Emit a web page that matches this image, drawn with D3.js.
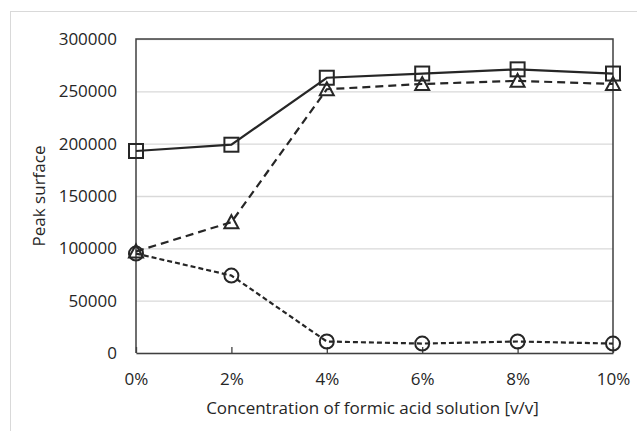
<!DOCTYPE html>
<html>
<head>
<meta charset="utf-8">
<script src="https://cdn.jsdelivr.net/npm/d3@7"></script>
<style>
  body { margin: 0; background: #fff; }
  svg { display: block; font-family: "Open Sans", sans-serif; }
</style>
</head>
<body>
<div id="chart"></div>
<script>
const categories = ["0%", "2%", "4%", "6%", "8%", "10%"];
const squares = [193000, 199000, 263000, 267000, 271000, 267000];
const triangles = [97000, 125000, 252000, 257000, 260000, 257000];
const circles = [95000, 74000, 11000, 9000, 11000, 9000];
const yTicks = [0, 50000, 100000, 150000, 200000, 250000, 300000];

const width = 637, height = 431;
const margin = { top: 39, right: 24, bottom: 78, left: 136 };
const innerW = width - margin.left - margin.right;
const innerH = height - margin.top - margin.bottom;
const ink = "#262626";
const fontSize = "17px";

const svg = d3.select("#chart").append("svg")
  .attr("width", width)
  .attr("height", height);

// outer chart frame
svg.append("rect")
  .attr("x", 10.5).attr("y", 11.5)
  .attr("width", width).attr("height", height)
  .style("fill", "none")
  .style("stroke", "#d9d9d9");

const g = svg.append("g")
  .attr("transform", `translate(${margin.left}, ${margin.top})`);

const xScale = d3.scalePoint().domain(categories).range([0, innerW]);
const yScale = d3.scaleLinear().domain([0, 300000]).range([innerH, 0]);

// gridlines + y labels
const yAxis = g.append("g")
  .call(d3.axisLeft(yScale).tickValues(yTicks).tickSize(-innerW).tickPadding(19).tickFormat(d3.format("d")));
yAxis.select(".domain").remove();
yAxis.selectAll("line").style("stroke", "#d9d9d9").style("stroke-width", 1.3);
yAxis.selectAll("text")
  .style("font-size", fontSize)
  .style("font-family", "Open Sans")
  .style("fill", ink);

// plot box top/left/right
g.append("path")
  .attr("d", `M0,${innerH}V0H${innerW}V${innerH}`)
  .style("fill", "none")
  .style("stroke", "#404040")
  .style("stroke-width", 1.5);

const xAxis = g.append("g")
  .attr("transform", `translate(0, ${innerH})`)
  .call(d3.axisBottom(xScale).tickSizeInner(-6).tickSizeOuter(0).tickPadding(20));
xAxis.select(".domain").style("stroke", "#404040").style("stroke-width", 1.5);
xAxis.selectAll("line").style("stroke", "#404040").style("stroke-width", 1.3);
xAxis.selectAll("text")
  .style("font-size", fontSize)
  .style("font-family", "Open Sans")
  .style("fill", ink);

svg.append("text")
  .attr("x", margin.left + innerW / 2 - 2)
  .attr("y", 414)
  .attr("text-anchor", "middle")
  .style("font-size", fontSize)
  .style("fill", ink)
  .text("Concentration of formic acid solution [v/v]");

svg.append("text")
  .attr("transform", `translate(45, ${margin.top + innerH / 2}) rotate(-90)`)
  .attr("text-anchor", "middle")
  .style("font-size", fontSize)
  .style("fill", ink)
  .text("Peak surface");

const line = d3.line()
  .x((d, i) => xScale(categories[i]))
  .y(d => yScale(d));

const series = [
  { values: triangles, dash: "8,5", shape: "tri" },
  { values: circles, dash: "5,3", shape: "circ" },
  { values: squares, dash: null, shape: "sq" }
];

series.forEach(s => {
  g.append("path")
    .datum(s.values)
    .attr("d", line)
    .style("fill", "none")
    .style("stroke", ink)
    .style("stroke-width", 2.2)
    .style("stroke-dasharray", s.dash);
});

series.forEach(s => {
  const pts = g.append("g").selectAll("g")
    .data(s.values)
    .join("g")
    .attr("transform", (d, i) => `translate(${xScale(categories[i])}, ${yScale(d)})`);
  if (s.shape === "sq") {
    pts.append("rect")
      .attr("x", -7).attr("y", -7).attr("width", 14).attr("height", 14)
      .style("fill", "none").style("stroke", ink).style("stroke-width", 2);
  } else if (s.shape === "circ") {
    pts.append("circle")
      .attr("r", 7)
      .style("fill", "none").style("stroke", ink).style("stroke-width", 2);
  } else {
    pts.append("path")
      .attr("d", "M0,-7L7,6L-7,6Z")
      .style("fill", "none").style("stroke", ink).style("stroke-width", 2);
  }
});
</script>
</body>
</html>
